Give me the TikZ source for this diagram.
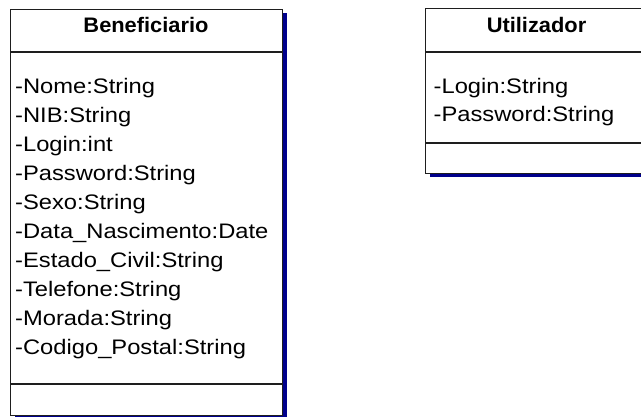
\documentclass[tikz,border=0pt]{standalone}
\usepackage{fontspec}
\setmainfont{Liberation Sans}
\newfontfamily\attrfont[FakeStretch=1.13]{Liberation Sans}
\newfontfamily\titlefont[FakeStretch=1.04]{Liberation Sans Bold}
\definecolor{shadowblue}{RGB}{0,0,140}
\definecolor{boxline}{RGB}{30,30,30}
\begin{document}
\begin{tikzpicture}[x=1pt,y=-1pt,
  classbox/.style={draw=boxline, line width=1.3pt, fill=white, rectangle, inner sep=0pt, anchor=north west},
  shadowbox/.style={fill=shadowblue, draw=none, rectangle, inner sep=0pt, anchor=north west},
  sepline/.style={draw=boxline, line width=1.3pt},
  attr/.style={font=\attrfont\fontsize{21}{21}\selectfont, anchor=base west, inner sep=0pt},
  ctitle/.style={font=\titlefont\fontsize{21}{21}\selectfont, anchor=base, inner sep=0pt}]
\useasboundingbox (0,0) rectangle (641,417);
\clip (0,0) rectangle (641,417);
\fill[white] (0,0) rectangle (641,417);
% ---------- Beneficiario ----------
\node[shadowbox, minimum width=272pt, minimum height=404pt] (benshadow) at (15,13) {};
\node[classbox, minimum width=272pt, minimum height=406pt] (ben) at (10,9) {};
\coordinate (bsep1) at (0,52);
\coordinate (bsep2) at (0,384);
\draw[sepline] (ben.west |- bsep1) -- (ben.east |- bsep1);
\draw[sepline] (ben.west |- bsep2) -- (ben.east |- bsep2);
\node[ctitle] (bentitle) at (146,33) {Beneficiario};
\foreach \t [count=\i from 0] in {-Nome:String,-NIB:String,-Login:int,-Password:String,-Sexo:String,-Data\_Nascimento:Date,-Estado\_Civil:String,-Telefone:String,-Morada:String,-Codigo\_Postal:String}
  \node[attr] (ben-\i) at (15,94+29*\i) {\t};
% ---------- Utilizador ----------
\node[shadowbox, minimum width=223pt, minimum height=165pt] (utishadow) at (430,12) {};
\node[classbox, minimum width=223pt, minimum height=165pt] (uti) at (425,8) {};
\coordinate (usep1) at (0,52);
\coordinate (usep2) at (0,143);
\draw[sepline] (uti.west |- usep1) -- (uti.east |- usep1);
\draw[sepline] (uti.west |- usep2) -- (uti.east |- usep2);
\node[ctitle] (utititle) at (536.5,33) {Utilizador};
\node[attr] (uti-0) at (433.5,94) {-Login:String};
\node[attr] (uti-1) at (433.5,122) {-Password:String};
\end{tikzpicture}
\end{document}
